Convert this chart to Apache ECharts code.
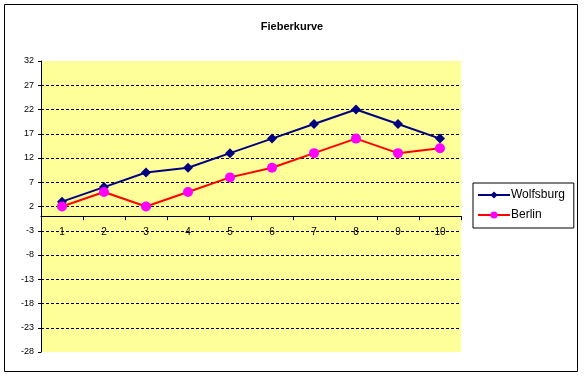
<!DOCTYPE html>
<html>
<head>
<meta charset="utf-8">
<script src="https://cdn.jsdelivr.net/npm/echarts@6/dist/echarts.min.js"></script>
<style>
  html, body { margin: 0; padding: 0; background: #fff; }
  #chart { width: 584px; height: 377px; }
</style>
</head>
<body>
<div id="chart"></div>
<script>
const categories = ['1', '2', '3', '4', '5', '6', '7', '8', '9', '10']
const wolfsburg = [3, 6, 9, 10, 13, 16, 19, 22, 19, 16]
const berlin = [2, 5, 2, 5, 8, 10, 13, 16, 13, 14]
const yMin = -28
const yMax = 32
const yStep = 5

const chart = echarts.init(document.getElementById('chart'))
const font = 'Liberation Sans, Arial, sans-serif'

const gridHeight = 291
// the category axis crosses the value axis at 0, as in Excel
const zeroOffset = -((0 - yMin) / (yMax - yMin)) * gridHeight

const option = {
  backgroundColor: '#fff',
  animation: false,
  textStyle: { fontFamily: font },
  title: {
    text: 'Fieberkurve',
    left: 287,
    textAlign: 'center',
    top: 16,
    textStyle: { fontSize: 11, fontWeight: 'bold', color: '#000', fontFamily: font },
  },
  graphic: [
    {
      type: 'rect',
      shape: { x: 4.5, y: 4.5, width: 573, height: 367 },
      style: { fill: 'none', stroke: '#000', lineWidth: 1 },
      z: -1,
    },
  ],
  legend: {
    orient: 'vertical',
    left: 473,
    top: 183,
    backgroundColor: '#fff',
    borderColor: '#000',
    borderWidth: 1,
    padding: [6, 9, 7, 4],
    itemGap: 8,
    itemWidth: 32,
    itemHeight: 9,
    textStyle: { fontSize: 12, color: '#000', fontFamily: font, padding: [0, 0, 0, -4] },
    data: ['Wolfsburg', 'Berlin'],
  },
  grid: {
    left: 41,
    top: 61,
    width: 420,
    height: gridHeight,
    show: true,
    backgroundColor: '#FFFF99',
    borderWidth: 0,
  },
  xAxis: {
    type: 'category',
    data: categories,
    boundaryGap: true,
    position: 'bottom',
    offset: zeroOffset,
    axisLine: { show: true, onZero: false, lineStyle: { color: '#000', width: 1 } },
    axisTick: { show: true, inside: false, length: 4, lineStyle: { color: '#000' } },
    axisLabel: { fontSize: 10, color: '#000', margin: 11, fontFamily: font },
    splitLine: { show: false },
  },
  yAxis: {
    type: 'value',
    min: yMin,
    max: yMax,
    interval: yStep,
    axisLine: { show: true, onZero: false, lineStyle: { color: '#000', width: 1 } },
    axisTick: { show: true, length: 3, lineStyle: { color: '#000' } },
    axisLabel: { fontSize: 9, color: '#000', margin: 7, fontFamily: font },
    splitLine: {
      show: true,
      showMinLine: false,
      showMaxLine: false,
      lineStyle: { color: '#000', type: [3, 2], width: 1 },
    },
  },
  series: [
    {
      name: 'Wolfsburg',
      type: 'line',
      data: wolfsburg,
      symbol: 'diamond',
      symbolSize: 10,
      itemStyle: { color: '#000080' },
      lineStyle: { color: '#000080', width: 2 },
    },
    {
      name: 'Berlin',
      type: 'line',
      data: berlin,
      symbol: 'circle',
      symbolSize: 10,
      itemStyle: { color: '#FF00FF' },
      lineStyle: { color: '#FF0000', width: 2 },
    },
  ],
}

chart.setOption(option)
</script>
</body>
</html>
